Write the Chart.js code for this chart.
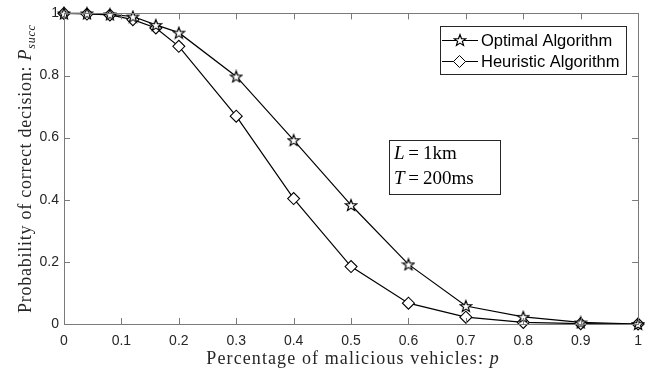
<!DOCTYPE html>
<html lang="en">
<head>
  <meta charset="UTF-8">
  <title>Probability of correct decision</title>
  <script src="https://cdn.jsdelivr.net/npm/chart.js"></script>
  <style>
    html, body { margin: 0; padding: 0; background: #fff; }
    #wrap { width: 651px; height: 373px; }
  </style>
</head>
<body>
  <div id="wrap"><canvas id="succChart" width="651" height="373"></canvas></div>
  <script>
    // values
    const pValues = [0, 0.04, 0.08, 0.12, 0.16, 0.2, 0.3, 0.4, 0.5, 0.6, 0.7, 0.8, 0.9, 1.0];
    const optimalSucc = [1, 1, 0.997, 0.99, 0.963, 0.938, 0.797, 0.592, 0.383, 0.192, 0.058, 0.023, 0.005, 0];
    const heuristicSucc = [1, 0.998, 0.995, 0.98, 0.953, 0.894, 0.669, 0.404, 0.185, 0.067, 0.022, 0.005, 0.001, 0];
    const seriesNames = ['Optimal Algorithm', 'Heuristic Algorithm'];
    const xTicks = [0, 0.1, 0.2, 0.3, 0.4, 0.5, 0.6, 0.7, 0.8, 0.9, 1];
    const yTicks = [0, 0.2, 0.4, 0.6, 0.8, 1];

    const frameColor = '#7a7a7a';
    const sans = '"Liberation Sans", Arial, sans-serif';
    const serif = '"Liberation Serif", "Times New Roman", serif';

    // pentagram marker
    function makeStar(size, rOut, rIn) {
      const c = document.createElement('canvas');
      c.width = size; c.height = size;
      const g = c.getContext('2d');
      const m = size / 2;
      g.beginPath();
      for (let i = 0; i < 10; i++) {
        const r = i % 2 === 0 ? rOut : rIn;
        const a = -Math.PI / 2 + i * Math.PI / 5;
        const px = m + r * Math.cos(a), py = m + 0.6 + r * Math.sin(a);
        if (i === 0) g.moveTo(px, py); else g.lineTo(px, py);
      }
      g.closePath();
      g.fillStyle = '#fff';
      g.fill();
      g.lineWidth = 1.2;
      g.strokeStyle = '#000';
      g.stroke();
      return c;
    }
    const starImg = makeStar(14, 6, 2.5);

    function richText(ctx, parts, x, y, angle, spacing) {
      ctx.save();
      ctx.translate(x, y);
      ctx.rotate(angle || 0);
      ctx.textBaseline = 'alphabetic';
      ctx.letterSpacing = spacing + 'px';
      let total = 0;
      parts.forEach(p => { ctx.font = p.f; total += ctx.measureText(p.t).width; });
      let cx = -total / 2;
      parts.forEach(p => {
        ctx.font = p.f;
        ctx.fillStyle = '#262626';
        ctx.fillText(p.t, cx, p.dy || 0);
        cx += ctx.measureText(p.t).width;
      });
      ctx.restore();
    }

    function leftText(ctx, parts, x, y) {
      let cx = x;
      parts.forEach(p => {
        ctx.font = p.f;
        ctx.fillStyle = '#000';
        ctx.fillText(p.t, cx, y);
        cx += ctx.measureText(p.t).width;
      });
    }

    const decorPlugin = {
      id: 'decor',
      afterDraw(chart) {
        const ctx = chart.ctx;
        const a = chart.chartArea;
        const xs = chart.scales.x, ys = chart.scales.y;
        ctx.save();
        // box frame
        ctx.strokeStyle = frameColor;
        ctx.lineWidth = 1;
        ctx.strokeRect(Math.round(a.left) + 0.5, Math.round(a.top) + 0.5,
          Math.round(a.right - a.left), Math.round(a.bottom - a.top));
        // inward ticks
        ctx.beginPath();
        xTicks.forEach(v => {
          const px = Math.round(xs.getPixelForValue(v)) + 0.5;
          ctx.moveTo(px, a.bottom); ctx.lineTo(px, a.bottom - 6);
          ctx.moveTo(px, a.top); ctx.lineTo(px, a.top + 6);
        });
        yTicks.forEach(v => {
          const py = Math.round(ys.getPixelForValue(v)) + 0.5;
          ctx.moveTo(a.left, py); ctx.lineTo(a.left + 6, py);
          ctx.moveTo(a.right, py); ctx.lineTo(a.right - 6, py);
        });
        ctx.stroke();

        // axis titles
        richText(ctx, [
          { t: 'Percentage of malicious vehicles: ', f: '18px ' + serif },
          { t: 'p', f: 'italic 18px ' + serif }
        ], (a.left + a.right) / 2 + 2, 364, 0, 1.1);
        richText(ctx, [
          { t: 'Probability of correct decision: ', f: '18px ' + serif },
          { t: 'P', f: 'italic 18px ' + serif },
          { t: 'succ', f: 'italic 12px ' + serif, dy: 4 }
        ], 31, (a.top + a.bottom) / 2, -Math.PI / 2, 0.75);

        // legend box
        const lx = 440, ly = 26, lw = 186, lh = 48;
        ctx.fillStyle = '#fff';
        ctx.fillRect(lx, ly, lw, lh);
        ctx.strokeStyle = '#262626';
        ctx.strokeRect(lx + 0.5, ly + 0.5, lw, lh);
        chart.data.datasets.forEach((ds, i) => {
          const cy = 40 + i * 21;
          ctx.strokeStyle = '#000';
          ctx.lineWidth = 1;
          ctx.beginPath();
          ctx.moveTo(442, cy + 0.5); ctx.lineTo(478, cy + 0.5);
          ctx.stroke();
          if (ds.pointStyle === 'rectRot') {
            ctx.beginPath();
            ctx.moveTo(459.5, cy - 5.5); ctx.lineTo(465.5, cy + 0.5); ctx.lineTo(459.5, cy + 6.5); ctx.lineTo(453.5, cy + 0.5);
            ctx.closePath();
            ctx.fillStyle = '#fff'; ctx.fill(); ctx.stroke();
          } else {
            ctx.drawImage(starImg, 453, cy - 7);
          }
          ctx.font = '16.5px ' + sans;
          ctx.fillStyle = '#000';
          ctx.textBaseline = 'middle';
          ctx.fillText(ds.label, 481, cy + 1);
        });

        // parameter box
        ctx.strokeStyle = '#262626';
        ctx.strokeRect(389.5, 140.5, 111, 54);
        ctx.textBaseline = 'alphabetic';
        leftText(ctx, [
          { t: 'L', f: 'italic 19px ' + serif },
          { t: '\u2009=\u20091km', f: '19px ' + serif }
        ], 394, 159);
        leftText(ctx, [
          { t: 'T', f: 'italic 19px ' + serif },
          { t: '\u2009=\u2009200ms', f: '19px ' + serif }
        ], 394, 184);
        ctx.restore();
      }
    };

    const succChart = new Chart(document.getElementById('succChart'), {
      type: 'line',
      data: {
        datasets: [
          {
            label: seriesNames[0],
            data: pValues.map((p, i) => ({ x: p, y: optimalSucc[i] })),
            borderColor: '#000',
            borderWidth: 1.2,
            pointStyle: starImg,
            pointRadius: 6,
            clip: false,
            tension: 0
          },
          {
            label: seriesNames[1],
            data: pValues.map((p, i) => ({ x: p, y: heuristicSucc[i] })),
            borderColor: '#000',
            borderWidth: 1.2,
            pointStyle: 'rectRot',
            pointRadius: 6,
            pointBackgroundColor: '#fff',
            pointBorderColor: '#000',
            pointBorderWidth: 1.1,
            clip: false,
            tension: 0
          }
        ]
      },
      options: {
        responsive: false,
        animation: false,
        layout: { padding: { top: 12, right: 11, left: 0, bottom: 0 } },
        plugins: { legend: { display: false }, tooltip: { enabled: false } },
        scales: {
          x: {
            type: 'linear',
            min: 0, max: 1,
            afterBuildTicks: s => { s.ticks = xTicks.map(v => ({ value: v })); },
            afterFit: s => { s.height = 49; },
            grid: { display: false, drawTicks: false },
            border: { display: false },
            ticks: { color: '#262626', font: { family: sans, size: 14 }, padding: 9, maxRotation: 0, callback: v => String(v) }
          },
          y: {
            type: 'linear',
            min: 0, max: 1,
            afterBuildTicks: s => { s.ticks = yTicks.map(v => ({ value: v })); },
            afterFit: s => { s.width = 64; },
            grid: { display: false, drawTicks: false },
            border: { display: false },
            ticks: { color: '#262626', font: { family: sans, size: 14 }, padding: 5, callback: v => String(v) }
          }
        }
      },
      plugins: [decorPlugin]
    });
  </script>
</body>
</html>
